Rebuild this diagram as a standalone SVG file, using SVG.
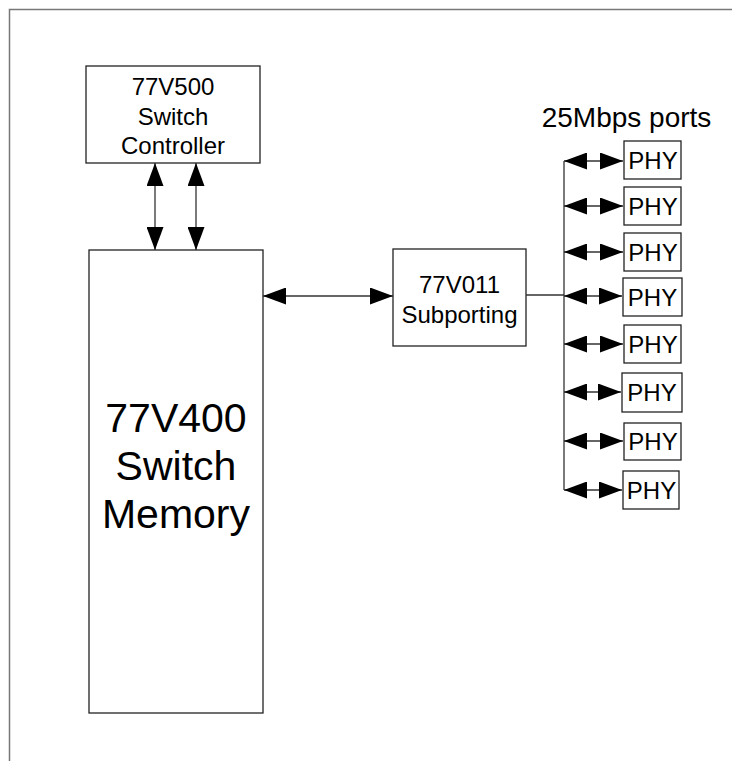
<svg xmlns="http://www.w3.org/2000/svg" width="732" height="761" viewBox="0 0 732 761">
<style>
.box{fill:#fff;stroke:#222;stroke-width:1.3}
.ln{fill:none;stroke:#333;stroke-width:1.3}
text{font-family:"Liberation Sans",Arial,sans-serif;fill:#000;text-anchor:middle}
.phy{font-size:24px}
</style>
<defs>
<marker id="ah" viewBox="0 0 23 17" refX="23" refY="8.5" markerWidth="23" markerHeight="17" markerUnits="userSpaceOnUse" orient="auto-start-reverse">
<path d="M0,0 L23,8.5 L0,17 Z" fill="#000"/>
</marker>
</defs>
<rect width="732" height="761" fill="#fff"/>
<path d="M9.5,761 V9.5 H732" fill="none" stroke="#777" stroke-width="1.5"/>
<g id="controller">
<rect class="box" x="86" y="66" width="174" height="97"/>
<text x="173" y="95" font-size="24">77V500</text>
<text x="173" y="125" font-size="24">Switch</text>
<text x="173" y="154" font-size="24">Controller</text>
</g>
<g id="memory">
<rect class="box" x="89" y="250" width="174" height="463"/>
<text x="176" y="432" font-size="41">77V400</text>
<text x="176" y="480" font-size="41">Switch</text>
<text x="176" y="528" font-size="41">Memory</text>
</g>
<g id="subporting">
<rect class="box" x="393" y="249" width="133" height="97"/>
<text x="459.5" y="293" font-size="24">77V011</text>
<text x="459.5" y="323" font-size="24">Subporting</text>
</g>
<g id="ports-label">
<text x="626.5" y="127" font-size="28">25Mbps ports</text>
</g>
<g id="phy1"><rect class="box" x="624" y="141" width="57" height="38"/><text class="phy" x="653" y="169">PHY</text></g>
<g id="phy2"><rect class="box" x="624" y="187" width="57" height="38"/><text class="phy" x="653" y="215">PHY</text></g>
<g id="phy3"><rect class="box" x="624" y="233" width="57" height="38"/><text class="phy" x="653" y="261">PHY</text></g>
<g id="phy4"><rect class="box" x="623" y="278" width="59" height="38"/><text class="phy" x="652.5" y="306">PHY</text></g>
<g id="phy5"><rect class="box" x="624" y="325" width="57" height="38"/><text class="phy" x="653" y="353">PHY</text></g>
<g id="phy6"><rect class="box" x="622" y="373" width="60" height="39"/><text class="phy" x="652" y="401">PHY</text></g>
<g id="phy7"><rect class="box" x="624" y="423" width="57" height="37"/><text class="phy" x="653" y="450">PHY</text></g>
<g id="phy8"><rect class="box" x="623" y="471" width="56" height="38"/><text class="phy" x="651.5" y="499">PHY</text></g>
<g id="connectors">
<line class="ln" x1="155" y1="163" x2="155" y2="250" marker-start="url(#ah)" marker-end="url(#ah)"/>
<line class="ln" x1="196" y1="163" x2="196" y2="250" marker-start="url(#ah)" marker-end="url(#ah)"/>
<line class="ln" x1="263" y1="296" x2="393" y2="296" marker-start="url(#ah)" marker-end="url(#ah)"/>
<line class="ln" x1="526" y1="295" x2="564" y2="295"/>
<line class="ln" x1="564" y1="161" x2="564" y2="490"/>
<line class="ln" x1="564" y1="161" x2="623" y2="161" marker-start="url(#ah)" marker-end="url(#ah)"/>
<line class="ln" x1="564" y1="206" x2="623" y2="206" marker-start="url(#ah)" marker-end="url(#ah)"/>
<line class="ln" x1="564" y1="252" x2="623" y2="252" marker-start="url(#ah)" marker-end="url(#ah)"/>
<line class="ln" x1="564" y1="296" x2="622" y2="296" marker-start="url(#ah)" marker-end="url(#ah)"/>
<line class="ln" x1="564" y1="344" x2="623" y2="344" marker-start="url(#ah)" marker-end="url(#ah)"/>
<line class="ln" x1="564" y1="392" x2="621" y2="392" marker-start="url(#ah)" marker-end="url(#ah)"/>
<line class="ln" x1="564" y1="441" x2="623" y2="441" marker-start="url(#ah)" marker-end="url(#ah)"/>
<line class="ln" x1="564" y1="490" x2="622" y2="490" marker-start="url(#ah)" marker-end="url(#ah)"/>
</g>
</svg>
